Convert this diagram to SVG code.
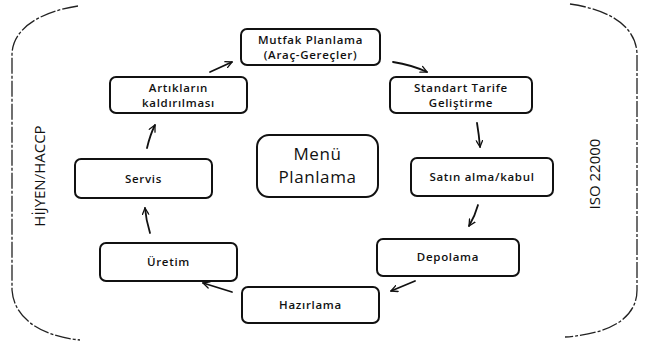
<svg xmlns="http://www.w3.org/2000/svg" width="656" height="346" viewBox="0 0 656 346">
<style>
.box{fill:#fff;stroke:#111;stroke-width:2}
.lbl{font-family:"Open Sans","Noto Sans",sans-serif;font-weight:600;font-size:11.5px;fill:#111;text-anchor:middle;letter-spacing:0.7px}
.big{font-family:"Open Sans","Noto Sans",sans-serif;font-size:17px;fill:#111;text-anchor:middle;letter-spacing:0.6px}
.side{font-family:"Open Sans","Noto Sans",sans-serif;font-size:15px;fill:#111;text-anchor:middle}
.frame{fill:none;stroke:#222;stroke-width:1.3;stroke-dasharray:16 2 3 2}
.arr{fill:none;stroke:#111;stroke-width:1.8;stroke-linecap:round;marker-end:url(#ah)}
</style>
<defs>
<marker id="ah" viewBox="0 0 10 10" refX="9" refY="5" markerWidth="8" markerHeight="8" markerUnits="userSpaceOnUse" orient="auto">
<path d="M1,1 L9,5 L1,9" fill="none" stroke="#111" stroke-width="1.6" stroke-linecap="round" stroke-linejoin="round"/>
</marker>
</defs>
<rect width="656" height="346" fill="#fff"/>
<g id="frame">
<path class="frame" d="M78,6 C38,12 12,30 12,55 L12,290 C14,318 40,336 80,340"/>
<path class="frame" d="M570,4 C612,10 637,28 637,55 L637,290 C637,318 610,334 565,337"/>
</g>
<g id="connectors">
<path class="arr" d="M210,72 L232,62"/>
<path class="arr" d="M393,62 Q412,65 427,72"/>
<path class="arr" d="M477,123 Q479,135 480,147"/>
<path class="arr" d="M478,205 Q475,216 469,226"/>
<path class="arr" d="M415,281 L391,291"/>
<path class="arr" d="M232,292 L203,283"/>
<path class="arr" d="M150,233 Q146,220 145,208"/>
<path class="arr" d="M147,148 Q150,135 155,125"/>
</g>
<g id="mutfak">
<rect class="box" x="241" y="29" width="139" height="36" rx="6"/>
<text class="lbl" x="310.5" y="44">Mutfak Planlama</text>
<text class="lbl" x="310.5" y="59">(Araç-Gereçler)</text>
</g>
<g id="standart">
<rect class="box" x="390" y="77" width="142" height="36" rx="6"/>
<text class="lbl" x="461" y="92">Standart Tarife</text>
<text class="lbl" x="461" y="107">Geliştirme</text>
</g>
<g id="satin">
<rect class="box" x="411" y="158" width="142" height="38" rx="6"/>
<text class="lbl" x="482" y="181">Satın alma/kabul</text>
</g>
<g id="depolama">
<rect class="box" x="377" y="239" width="142" height="37" rx="6"/>
<text class="lbl" x="448" y="261">Depolama</text>
</g>
<g id="hazirlama">
<rect class="box" x="242" y="287" width="137" height="36" rx="6"/>
<text class="lbl" x="310.5" y="309">Hazırlama</text>
</g>
<g id="uretim">
<rect class="box" x="100" y="243" width="137" height="38" rx="6"/>
<text class="lbl" x="168.5" y="266">Üretim</text>
</g>
<g id="servis">
<rect class="box" x="75" y="159" width="137" height="39" rx="6"/>
<text class="lbl" x="143.5" y="183">Servis</text>
</g>
<g id="artiklarin">
<rect class="box" x="110" y="77" width="137" height="36" rx="6"/>
<text class="lbl" x="178.5" y="92">Artıkların</text>
<text class="lbl" x="178.5" y="107">kaldırılması</text>
</g>
<g id="menu">
<rect class="box" x="257" y="135" width="121" height="62" rx="12"/>
<text class="big" x="317.5" y="160">Menü</text>
<text class="big" x="317.5" y="183">Planlama</text>
</g>
<g id="hijyen">
<text class="side" transform="translate(45,176) rotate(-90)">HİJYEN/HACCP</text>
</g>
<g id="iso">
<text class="side" transform="translate(600,174) rotate(-90)">ISO 22000</text>
</g>
</svg>
